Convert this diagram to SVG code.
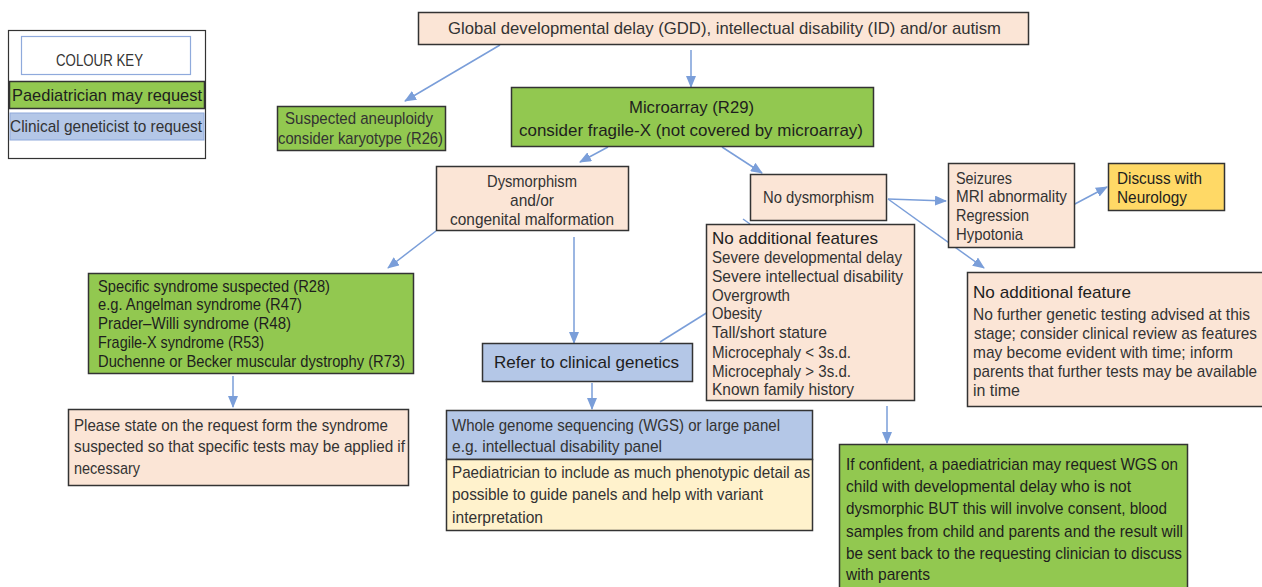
<svg xmlns="http://www.w3.org/2000/svg" width="1262" height="587" viewBox="0 0 1262 587">
<style>
text{font-family:"Liberation Sans",Arial,sans-serif;font-size:17px;fill:#333}
.c{text-anchor:middle}
.d{fill:#1e1e1e}
.box{stroke:#333;stroke-width:1.5}
.peach{fill:#FBE5D6}
.green{fill:#92C850}
.blue{fill:#B4C7E7}
.yel{fill:#FFD966}
.ly{fill:#FFF2CC}
.ln{stroke:#7A9ED9;stroke-width:1.5;fill:none}
</style>
<defs>
<marker id="ah" markerWidth="12" markerHeight="10" refX="11" refY="5" orient="auto" markerUnits="userSpaceOnUse">
<path d="M0,0 L12,5 L0,10 Z" fill="#7A9ED9"/>
</marker>
</defs>
<rect width="1262" height="587" fill="#fff"/>

<g id="key">
<rect x="8.5" y="30.5" width="197" height="128" fill="#fff" stroke="#333" stroke-width="1.2"/>
<rect x="21.5" y="36.5" width="169" height="38" fill="#fff" stroke="#8FAADC" stroke-width="1.2"/>
<text x="56" y="66" textLength="87" lengthAdjust="spacingAndGlyphs">COLOUR KEY</text>
<rect x="9.5" y="81.5" width="195" height="27" class="box green"/>
<text x="12" y="101" textLength="190" lengthAdjust="spacingAndGlyphs" class="d">Paediatrician may request</text>
<rect x="10" y="113" width="194" height="27" class="blue" stroke="#8FAADC" stroke-width="1"/>
<text x="10" y="132" textLength="192" lengthAdjust="spacingAndGlyphs">Clinical geneticist to request</text>
</g>

<g id="connectors">
<line x1="500" y1="45" x2="405" y2="101" class="ln" marker-end="url(#ah)"/>
<line x1="691" y1="50" x2="691" y2="87" class="ln" marker-end="url(#ah)"/>
<line x1="608" y1="147" x2="580" y2="162" class="ln" marker-end="url(#ah)"/>
<line x1="722" y1="147" x2="762" y2="173" class="ln" marker-end="url(#ah)"/>
<line x1="888" y1="199" x2="946" y2="201" class="ln" marker-end="url(#ah)"/>
<line x1="1073" y1="205" x2="1107" y2="187" class="ln" marker-end="url(#ah)"/>
<line x1="888" y1="199" x2="984" y2="268" class="ln" marker-end="url(#ah)"/>
<line x1="743" y1="219" x2="750" y2="224" class="ln"/>
<line x1="436" y1="231" x2="388" y2="268" class="ln" marker-end="url(#ah)"/>
<line x1="574" y1="237" x2="574" y2="343" class="ln" marker-end="url(#ah)"/>
<line x1="660" y1="342" x2="708" y2="312" class="ln"/>
<line x1="233" y1="376" x2="233" y2="407" class="ln" marker-end="url(#ah)"/>
<line x1="592" y1="383" x2="592" y2="409" class="ln" marker-end="url(#ah)"/>
<line x1="887" y1="406" x2="887" y2="443" class="ln" marker-end="url(#ah)"/>
</g>

<g id="top">
<rect x="418.5" y="12.5" width="610" height="32" class="box peach"/>
<text x="448" y="34" textLength="553" lengthAdjust="spacingAndGlyphs">Global developmental delay (GDD), intellectual disability (ID) and/or autism</text>
</g>

<g id="aneuploidy">
<rect x="277.5" y="106.5" width="168" height="44" class="box green"/>
<text x="285" y="124" textLength="148" lengthAdjust="spacingAndGlyphs">Suspected aneuploidy</text>
<text x="278" y="144" textLength="165" lengthAdjust="spacingAndGlyphs">consider karyotype (R26)</text>
</g>

<g id="microarray">
<rect x="511.5" y="87.5" width="362" height="59" class="box green"/>
<text x="629" y="113" textLength="125" lengthAdjust="spacingAndGlyphs" class="d">Microarray (R29)</text>
<text x="519" y="136" textLength="344" lengthAdjust="spacingAndGlyphs" class="d">consider fragile-X (not covered by microarray)</text>
</g>

<g id="dysmorphism">
<rect x="436.5" y="166.5" width="192" height="64" class="box peach"/>
<text x="487" y="187" textLength="90" lengthAdjust="spacingAndGlyphs">Dysmorphism</text>
<text x="510" y="206" textLength="44" lengthAdjust="spacingAndGlyphs">and/or</text>
<text x="450" y="225" textLength="164" lengthAdjust="spacingAndGlyphs">congenital malformation</text>
</g>

<g id="nodysmorphism">
<rect x="750.5" y="174.5" width="136" height="46" class="box peach"/>
<text x="763" y="203" textLength="111" lengthAdjust="spacingAndGlyphs">No dysmorphism</text>
</g>

<g id="seizures">
<rect x="948.5" y="163.5" width="126" height="84" class="box peach"/>
<text x="956" y="184" textLength="56" lengthAdjust="spacingAndGlyphs">Seizures</text>
<text x="956" y="202" textLength="111" lengthAdjust="spacingAndGlyphs">MRI abnormality</text>
<text x="956" y="221" textLength="73" lengthAdjust="spacingAndGlyphs">Regression</text>
<text x="956" y="240" textLength="67" lengthAdjust="spacingAndGlyphs">Hypotonia</text>
</g>

<g id="neurology">
<rect x="1108.5" y="163.5" width="116" height="47" class="box yel"/>
<text x="1117" y="184" textLength="85" lengthAdjust="spacingAndGlyphs" class="d">Discuss with</text>
<text x="1117" y="203" textLength="70" lengthAdjust="spacingAndGlyphs" class="d">Neurology</text>
</g>

<g id="noadditionalfeature">
<rect x="967.5" y="272.5" width="300" height="134" class="box peach"/>
<text x="973" y="298" textLength="158" lengthAdjust="spacingAndGlyphs" class="d">No additional feature</text>
<text x="973" y="320" textLength="277" lengthAdjust="spacingAndGlyphs">No further genetic testing advised at this</text>
<text x="974" y="339" textLength="283" lengthAdjust="spacingAndGlyphs">stage; consider clinical review as features</text>
<text x="973" y="358" textLength="260" lengthAdjust="spacingAndGlyphs">may become evident with time; inform</text>
<text x="973" y="377" textLength="284" lengthAdjust="spacingAndGlyphs">parents that further tests may be available</text>
<text x="973" y="396" textLength="47" lengthAdjust="spacingAndGlyphs">in time</text>
</g>

<g id="noadditionalfeatures">
<rect x="706.5" y="224.5" width="208" height="176" class="box peach"/>
<text x="712" y="244" textLength="166" lengthAdjust="spacingAndGlyphs" class="d">No additional features</text>
<text x="712" y="263" textLength="190" lengthAdjust="spacingAndGlyphs">Severe developmental delay</text>
<text x="712" y="282" textLength="191" lengthAdjust="spacingAndGlyphs">Severe intellectual disability</text>
<text x="712" y="301" textLength="78" lengthAdjust="spacingAndGlyphs">Overgrowth</text>
<text x="712" y="319" textLength="50" lengthAdjust="spacingAndGlyphs">Obesity</text>
<text x="712" y="338" textLength="115" lengthAdjust="spacingAndGlyphs">Tall/short stature</text>
<text x="712" y="358" textLength="139" lengthAdjust="spacingAndGlyphs">Microcephaly &lt; 3s.d.</text>
<text x="712" y="377" textLength="139" lengthAdjust="spacingAndGlyphs">Microcephaly &gt; 3s.d.</text>
<text x="712" y="395" textLength="142" lengthAdjust="spacingAndGlyphs">Known family history</text>
</g>

<g id="specific">
<rect x="88.5" y="273.5" width="325" height="100" class="box green"/>
<text x="98" y="292" textLength="232" lengthAdjust="spacingAndGlyphs" class="d">Specific syndrome suspected (R28)</text>
<text x="98" y="310" textLength="204" lengthAdjust="spacingAndGlyphs" class="d">e.g. Angelman syndrome (R47)</text>
<text x="98" y="329" textLength="193" lengthAdjust="spacingAndGlyphs" class="d">Prader–Willi syndrome (R48)</text>
<text x="98" y="348" textLength="166" lengthAdjust="spacingAndGlyphs" class="d">Fragile-X syndrome (R53)</text>
<text x="98" y="367" textLength="307" lengthAdjust="spacingAndGlyphs" class="d">Duchenne or Becker muscular dystrophy (R73)</text>
</g>

<g id="pleasestate">
<rect x="68.5" y="409.5" width="340" height="76" class="box peach"/>
<text x="74" y="431" textLength="314" lengthAdjust="spacingAndGlyphs">Please state on the request form the syndrome</text>
<text x="74" y="452" textLength="331" lengthAdjust="spacingAndGlyphs">suspected so that specific tests may be applied if</text>
<text x="74" y="474" textLength="66" lengthAdjust="spacingAndGlyphs">necessary</text>
</g>

<g id="refer">
<rect x="482.5" y="343.5" width="210" height="38" class="box blue"/>
<text x="494" y="368" textLength="185" lengthAdjust="spacingAndGlyphs" class="d">Refer to clinical genetics</text>
</g>

<g id="wgs">
<rect x="446.5" y="410.5" width="366" height="49" class="box blue"/>
<rect x="446.5" y="459.5" width="366" height="71" class="box ly"/>
<text x="452" y="431" textLength="328" lengthAdjust="spacingAndGlyphs">Whole genome sequencing (WGS) or large panel</text>
<text x="452" y="452" textLength="210" lengthAdjust="spacingAndGlyphs">e.g. intellectual disability panel</text>
<text x="452" y="478" textLength="358" lengthAdjust="spacingAndGlyphs">Paediatrician to include as much phenotypic detail as</text>
<text x="452" y="500" textLength="311" lengthAdjust="spacingAndGlyphs">possible to guide panels and help with variant</text>
<text x="452" y="523" textLength="91" lengthAdjust="spacingAndGlyphs">interpretation</text>
</g>

<g id="confident">
<rect x="839.5" y="444.5" width="348" height="150" class="box green"/>
<text x="846" y="470" textLength="332" lengthAdjust="spacingAndGlyphs" class="d">If confident, a paediatrician may request WGS on</text>
<text x="846" y="492" textLength="285" lengthAdjust="spacingAndGlyphs" class="d">child with developmental delay who is not</text>
<text x="846" y="514" textLength="321" lengthAdjust="spacingAndGlyphs" class="d">dysmorphic BUT this will involve consent, blood</text>
<text x="846" y="537" textLength="337" lengthAdjust="spacingAndGlyphs" class="d">samples from child and parents and the result will</text>
<text x="846" y="559" textLength="336" lengthAdjust="spacingAndGlyphs" class="d">be sent back to the requesting clinician to discuss</text>
<text x="846" y="580" textLength="84" lengthAdjust="spacingAndGlyphs" class="d">with parents</text>
</g>
</svg>
